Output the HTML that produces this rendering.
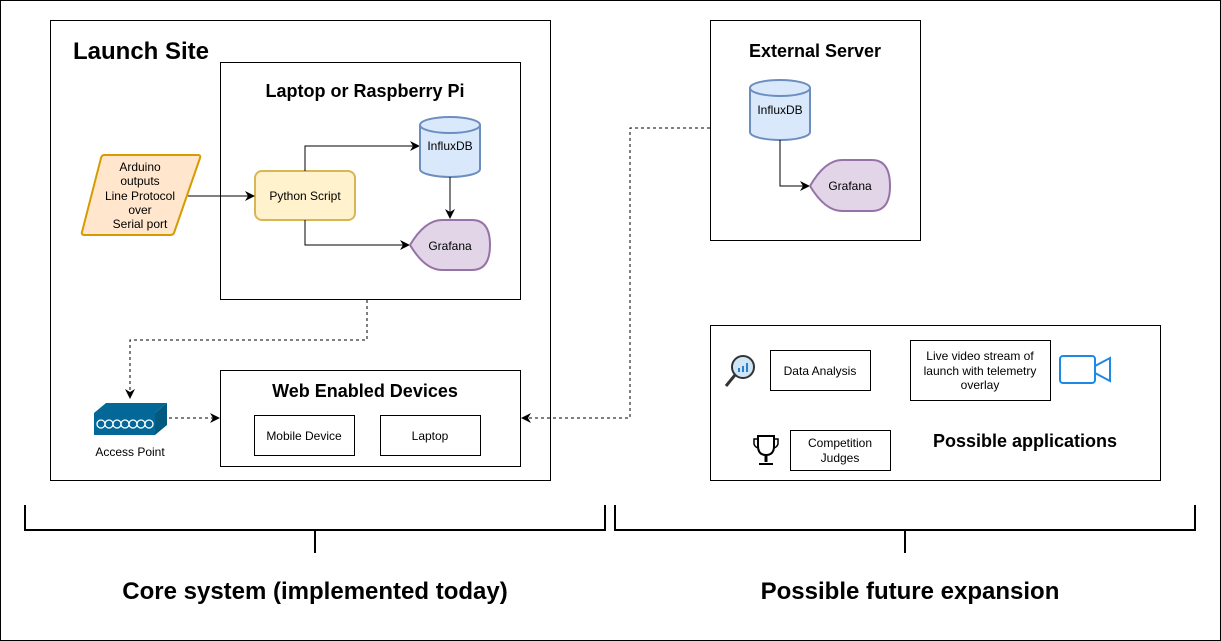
<!DOCTYPE html>
<html><head><meta charset="utf-8"><style>html,body{margin:0;padding:0;background:#fff}svg{display:block}text{font-family:"Liberation Sans",sans-serif}</style></head>
<body>
<svg width="1221" height="641" viewBox="0 0 1221 641" xmlns="http://www.w3.org/2000/svg">
<defs>
<marker id="a" viewBox="0 0 10 10" refX="9" refY="5" markerWidth="10" markerHeight="10" orient="auto"><path d="M0,0 L10,5 L0,10 L3,5 Z" fill="#000"/></marker>
</defs>
<rect x="0.5" y="0.5" width="1220" height="640" fill="#fff" stroke="#000"/>
<rect x="50.5" y="20.5" width="500" height="460" fill="#fff" stroke="#000"/>
<text x="73" y="59" font-size="24" font-weight="bold">Launch Site</text>
<rect x="220.5" y="62.5" width="300" height="237" fill="#fff" stroke="#000"/>
<text x="365" y="97" font-size="18" font-weight="bold" text-anchor="middle">Laptop or Raspberry Pi</text>
<path d="M104,155 L198,155 Q201,155 200,158 L174,233 Q173,235 170,235 L85,235 Q81,235 82,232 L101,158 Q102,155 104,155 Z" fill="#ffe6cc" stroke="#d79b00" stroke-width="2"/>
<g font-size="12" text-anchor="middle"><text x="140" y="171">Arduino</text><text x="140" y="185">outputs</text><text x="140" y="200">Line Protocol</text><text x="140" y="214">over</text><text x="140" y="228">Serial port</text></g>
<rect x="255" y="171" width="100" height="49" rx="7" fill="#fff2cc" stroke="#d6b656" stroke-width="2"/>
<text x="305" y="200" font-size="12" text-anchor="middle">Python Script</text>
<line x1="188" y1="196" x2="254" y2="196" stroke="#000" marker-end="url(#a)"/>
<path d="M305,171 V146 H419" fill="none" stroke="#000" marker-end="url(#a)"/>
<path d="M305,220 V245 H409" fill="none" stroke="#000" marker-end="url(#a)"/>
<path d="M420,125 V169 A30,8 0 0 0 480,169 V125" fill="#dae8fc" stroke="#6c8ebf" stroke-width="2"/>
<ellipse cx="450" cy="125" rx="30" ry="8" fill="#dae8fc" stroke="#6c8ebf" stroke-width="2"/>
<text x="450" y="150" font-size="12" text-anchor="middle">InfluxDB</text>
<line x1="450" y1="177" x2="450" y2="218" stroke="#000" marker-end="url(#a)"/>
<path d="M410,245 Q425,220 442,220 L472,220 Q490,220 490,245 Q490,270 472,270 L442,270 Q425,270 410,245 Z" fill="#e1d5e7" stroke="#9673a6" stroke-width="2"/>
<text x="450" y="250" font-size="12" text-anchor="middle">Grafana</text>
<rect x="220.5" y="370.5" width="300" height="96" fill="#fff" stroke="#000"/>
<text x="365" y="397" font-size="18" font-weight="bold" text-anchor="middle">Web Enabled Devices</text>
<rect x="254.5" y="415.5" width="100" height="40" fill="#fff" stroke="#000"/>
<text x="304" y="440" font-size="12" text-anchor="middle">Mobile Device</text>
<rect x="380.5" y="415.5" width="100" height="40" fill="#fff" stroke="#000"/>
<text x="430" y="440" font-size="12" text-anchor="middle">Laptop</text>
<path d="M367,300 V340 H130 V398" fill="none" stroke="#000" stroke-dasharray="3,3" marker-end="url(#a)"/>
<line x1="169" y1="418" x2="219" y2="418" stroke="#000" stroke-dasharray="3,3" marker-end="url(#a)"/>
<path d="M710,128 H630 V418 H522" fill="none" stroke="#000" stroke-dasharray="3,3" marker-end="url(#a)"/>
<path d="M94,413 L106,403 L167,403 L155,413 Z" fill="#036897"/>
<path d="M155,413 L167,403 L167,425 L155,435 Z" fill="#025a80"/>
<rect x="94" y="413" width="61" height="22" fill="#036897"/>
<g fill="none" stroke="#fff" stroke-width="1.3"><ellipse cx="101" cy="424" rx="4" ry="4"/><ellipse cx="109" cy="424" rx="4" ry="4"/><ellipse cx="117" cy="424" rx="4" ry="4"/><ellipse cx="125" cy="424" rx="4" ry="4"/><ellipse cx="133" cy="424" rx="4" ry="4"/><ellipse cx="141" cy="424" rx="4" ry="4"/><ellipse cx="149" cy="424" rx="4" ry="4"/></g>
<text x="130" y="456" font-size="12" text-anchor="middle">Access Point</text>
<rect x="710.5" y="20.5" width="210" height="220" fill="#fff" stroke="#000"/>
<text x="815" y="57" font-size="18" font-weight="bold" text-anchor="middle">External Server</text>
<path d="M750,88 V132 A30,8 0 0 0 810,132 V88" fill="#dae8fc" stroke="#6c8ebf" stroke-width="2"/>
<ellipse cx="780" cy="88" rx="30" ry="8" fill="#dae8fc" stroke="#6c8ebf" stroke-width="2"/>
<text x="780" y="114" font-size="12" text-anchor="middle">InfluxDB</text>
<path d="M780,140 V186 H809" fill="none" stroke="#000" marker-end="url(#a)"/>
<path d="M810,186 Q825,160 842,160 L872,160 Q890,160 890,186 Q890,211 872,211 L842,211 Q825,211 810,186 Z" fill="#e1d5e7" stroke="#9673a6" stroke-width="2"/>
<text x="850" y="190" font-size="12" text-anchor="middle">Grafana</text>
<rect x="710.5" y="325.5" width="450" height="155" fill="#fff" stroke="#000"/>
<rect x="770.5" y="350.5" width="100" height="40" fill="#fff" stroke="#000"/>
<text x="820" y="375" font-size="12" text-anchor="middle">Data Analysis</text>
<rect x="910.5" y="340.5" width="140" height="60" fill="#fff" stroke="#000"/>
<g font-size="12" text-anchor="middle"><text x="980" y="360">Live video stream of</text><text x="980" y="375">launch with telemetry</text><text x="980" y="389">overlay</text></g>
<rect x="790.5" y="430.5" width="100" height="40" fill="#fff" stroke="#000"/>
<g font-size="12" text-anchor="middle"><text x="840" y="447">Competition</text><text x="840" y="462">Judges</text></g>
<text x="1025" y="447" font-size="18" font-weight="bold" text-anchor="middle">Possible applications</text>
<circle cx="743" cy="367" r="11" fill="#cfe6f7" stroke="#333" stroke-width="2"/>
<line x1="735" y1="375" x2="726" y2="386" stroke="#333" stroke-width="3"/>
<g fill="#2a7fd0"><rect x="738" y="368" width="2" height="4"/><rect x="742" y="366" width="2" height="6"/><rect x="746" y="363" width="2" height="9"/></g>
<rect x="1060" y="356" width="35" height="27" rx="3" fill="none" stroke="#1e88e5" stroke-width="2"/>
<path d="M1095,366 L1110,358 V381 L1095,373" fill="none" stroke="#1e88e5" stroke-width="2"/>
<path d="M758,436 H774 V446 Q774,455 766,455 Q758,455 758,446 Z" fill="none" stroke="#000" stroke-width="2"/>
<path d="M758,439 H754 V444 Q755,447 758,448 M774,439 H778 V444 Q777,447 774,448" fill="none" stroke="#000" stroke-width="1.5"/>
<line x1="766" y1="455" x2="766" y2="462" stroke="#000" stroke-width="3"/>
<line x1="759" y1="464" x2="773" y2="464" stroke="#000" stroke-width="2"/>
<path d="M25,505 V530 H605 V505 M315,530 V553" fill="none" stroke="#000" stroke-width="2"/>
<path d="M615,505 V530 H1195 V505 M905,530 V553" fill="none" stroke="#000" stroke-width="2"/>
<text x="315" y="599" font-size="24" font-weight="bold" text-anchor="middle">Core system (implemented today)</text>
<text x="910" y="599" font-size="24" font-weight="bold" text-anchor="middle">Possible future expansion</text>
</svg>
</body></html>
